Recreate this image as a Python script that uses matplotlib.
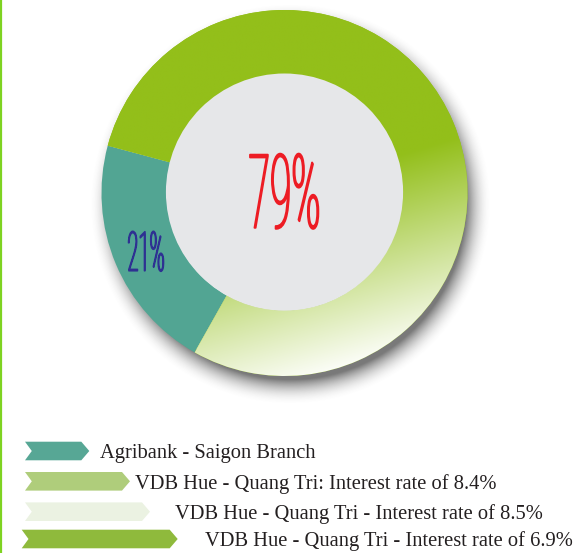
import numpy as np
import matplotlib
matplotlib.use('Agg')
import matplotlib.pyplot as plt
from matplotlib.patches import Circle, Polygon
from matplotlib.patheffects import AbstractPathEffect
from matplotlib.transforms import Affine2D

# data
shares = [21, 79]
share_labels = ["21%", "79%"]
legend_labels = [
    "Agribank - Saigon Branch",
    "VDB Hue - Quang Tri: Interest rate of 8.4%",
    "VDB Hue - Quang Tri - Interest rate of 8.5%",
    "VDB Hue - Quang Tri - Interest rate of 6.9%",
]
legend_colors = ["#57a795", "#afcd7b", "#ebf2e2", "#8fba3c"]

TEAL = "#52a593"
GREEN = np.array([0x93, 0xbf, 0x1a]) / 255
WHITE = np.array([0xfb, 0xfd, 0xf6]) / 255
HOLE = "#e6e7e9"

W, H = 573, 553
R_PX = 183        # outer radius in pixels
CX, CY = 284.5, 193
LIM = 1.2
HOLE_R = 0.642


class Squeeze(AbstractPathEffect):
    # narrow the glyphs horizontally around the text anchor, add a thin outline
    def __init__(self, sx, lw=0.0):
        super().__init__()
        self.sx = sx
        self.lw = lw
        self.text = None

    def draw_path(self, renderer, gc, tpath, affine, rgbFace=None):
        cx = self.text.get_transform().transform(self.text.get_position())[0]
        t = affine + Affine2D().translate(-cx, 0).scale(self.sx, 1).translate(cx, 0)
        gc0 = renderer.new_gc()
        gc0.copy_properties(gc)
        gc0.set_linewidth(self.lw)
        gc0.set_foreground(rgbFace)
        gc0.set_joinstyle("round")
        renderer.draw_path(gc0, tpath, t, rgbFace)
        gc0.restore()


def squeezed_text(ax, x, y, s, sx, lw, **kw):
    pe = Squeeze(sx, lw)
    txt = ax.text(x, y, s, path_effects=[pe], **kw)
    pe.text = txt
    return txt


plt.rcParams['font.serif'] = ['Liberation Serif', 'DejaVu Serif']

fig = plt.figure(figsize=(W / 100, H / 100), dpi=100)
fig.patch.set_facecolor("white")

side = 2 * LIM * R_PX
ax = fig.add_axes([(CX - side / 2) / W, (H - CY - side / 2) / H, side / W, side / H])

wedges, _ = ax.pie(shares, colors=[TEAL, "#93bf1a"], startangle=165, counterclock=True,
                   radius=1, wedgeprops=dict(width=1 - HOLE_R, linewidth=0))
ax.set_xlim(-LIM, LIM)
ax.set_ylim(-LIM, LIM)
ax.set_aspect("equal")
ax.axis("off")

# soft drop shadow below the ring
n = 480
gx, gy = np.meshgrid(np.linspace(-LIM, LIM, n), np.linspace(LIM, -LIM, n))
d = np.hypot(gx - 0.03, gy + 0.06)
a = np.clip(1 - (d - 0.96) / 0.14, 0, 1) ** 2 * 0.75
a[np.hypot(gx, gy) < 0.98] = 0
shadow = np.zeros((n, n, 4))
shadow[..., :3] = 0.3
shadow[..., 3] = a
ax.imshow(shadow, extent=[-LIM, LIM, -LIM, LIM], zorder=0.5, interpolation="bilinear")

# green gradient on the large wedge
gx, gy = np.meshgrid(np.linspace(-1, 1, n), np.linspace(1, -1, n))
t = 0.29 * gx - 0.96 * gy
f = np.clip((t + 0.02) / 1.02, 0, 1)[..., None]
grad = GREEN * (1 - f) + WHITE * f
im = ax.imshow(grad, extent=[-1, 1, -1, 1], zorder=1.5, interpolation="bilinear")
im.set_clip_path(wedges[1])

ax.add_patch(Circle((0, 0.005), HOLE_R + 0.006, fc=HOLE, ec="none", zorder=3))

# labels
w = wedges[0]
mid = np.deg2rad((w.theta1 + w.theta2) / 2)
rm = (1 + HOLE_R) / 2
squeezed_text(ax, rm * np.cos(mid), rm * np.sin(mid) - 0.107, share_labels[0], 0.37, 1.1,
              ha="center", va="baseline", fontsize=39.5, color="#2e3192",
              family=["Roboto", "DejaVu Sans"], fontweight="light", zorder=4)
squeezed_text(ax, 0, -0.19, share_labels[1], 0.38, 1.4,
              ha="center", va="baseline", fontsize=74, color="#ed1c24",
              family=["Roboto", "DejaVu Sans"], fontweight="light", zorder=4)

# overlay in pixel coordinates for legend and border
ov = fig.add_axes([0, 0, 1, 1])
ov.set_xlim(0, W)
ov.set_ylim(H, 0)
ov.axis("off")
ov.plot([1, 1], [0, H], color="#7ed321", lw=1.6, clip_on=False)

chev_x0 = [25, 25, 25, 21.7]
chev_x1 = [89.3, 130, 150, 177.7]
chev_y = [451, 481.3, 511.7, 539]
text_x = [100, 135, 175, 205]
hh, tip = 9.3, 8

for lab, col, x0, x1, yc, tx in zip(legend_labels, legend_colors, chev_x0, chev_x1, chev_y, text_x):
    pts = [(x0, yc - hh), (x1 - tip, yc - hh), (x1, yc), (x1 - tip, yc + hh),
           (x0, yc + hh), (x0 + tip * 0.85, yc)]
    ov.add_patch(Polygon(pts, closed=True, fc=col, ec="none"))
    ov.text(tx, yc + 7.3, lab, ha="left", va="baseline", fontsize=14.8,
            family="serif", color="#231f20", clip_on=False)

fig.savefig("out.png", dpi=100)
